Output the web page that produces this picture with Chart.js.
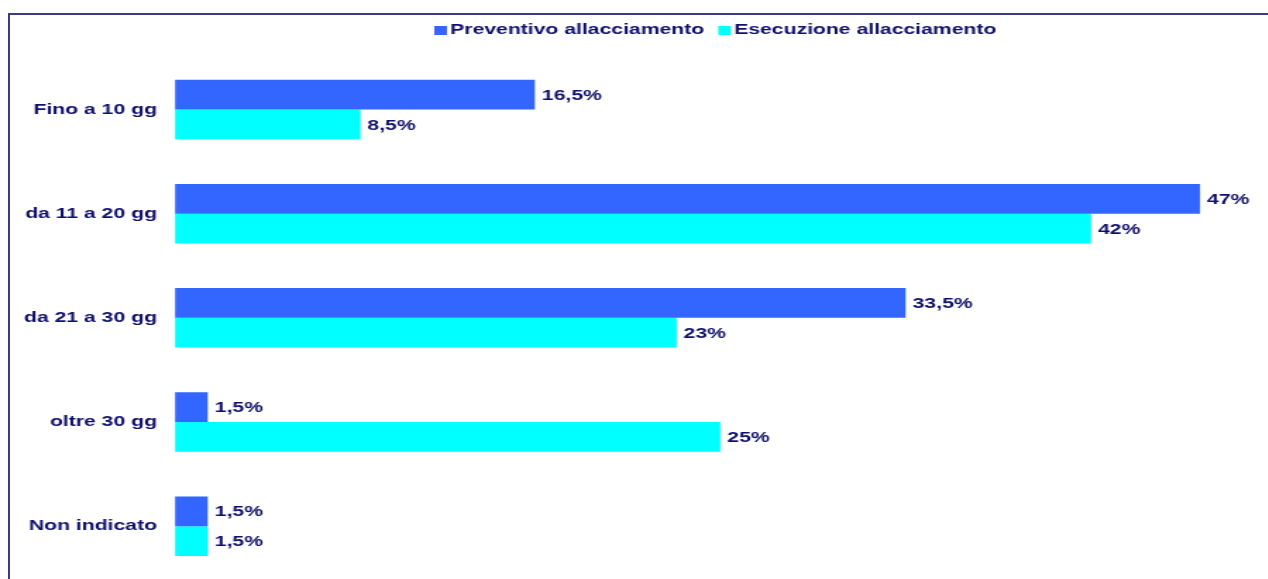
<!DOCTYPE html>
<html>
<head>
<meta charset="utf-8">
<script src="https://cdn.jsdelivr.net/npm/chart.js@4"></script>
<style>
  html, body { margin: 0; padding: 0; background: #fff; overflow: hidden; }
  #page { position: relative; width: 1268px; height: 579px; overflow: hidden; }
  /* the drawing is done narrow and widened horizontally */
  #wrap { position: absolute; left: 0; top: 0; width: 900px; height: 600px;
          transform: scaleX(1.41); transform-origin: 0 0; }
  #frame { position: absolute; left: 8px; top: 13px; right: -10px; bottom: -10px;
           border-left: 2px solid #3b3b80; border-top: 2px solid #3b3b80; }
</style>
</head>
<body>
<div id="page">
  <div id="wrap"><canvas id="chart"></canvas></div>
  <div id="frame"></div>
</div>
<script>
// ── Dati ───────────────────────────────────────────────────────────────
const CATEGORIE  = ['Fino a 10 gg', 'da 11 a 20 gg', 'da 21 a 30 gg', 'oltre 30 gg', 'Non indicato'];
const PREVENTIVO = [16.5, 47, 33.5, 1.5, 1.5];
const ESECUZIONE = [8.5, 42, 23, 25, 1.5];

const BLU    = '#3366ff';
const CIANO  = '#00ffff';
const TESTO  = '#10106b';
const FONT   = { family: "'Liberation Sans', Arial, sans-serif", size: 15, weight: 'bold' };
const FONT_CSS = `${FONT.weight} ${FONT.size}px ${FONT.family}`;

const fmtPct = v => String(v).replace('.', ',') + '%';

// etichette dei valori a destra di ogni barra
const valueLabels = {
  id: 'valueLabels',
  afterDatasetsDraw(chart) {
    const ctx = chart.ctx;
    ctx.save();
    ctx.font = FONT_CSS;
    ctx.fillStyle = TESTO;
    ctx.textAlign = 'left';
    ctx.textBaseline = 'middle';
    chart.data.datasets.forEach((ds, i) => {
      chart.getDatasetMeta(i).data.forEach((bar, j) => {
        ctx.fillText(fmtPct(ds.data[j]), bar.x + 5, bar.y + 1);
      });
    });
    ctx.restore();
  }
};

// legenda compatta in alto (quadratino attaccato al testo)
const topLegend = {
  id: 'topLegend',
  afterDraw(chart) {
    const ctx = chart.ctx;
    const box = 9, gap = 2.3, itemGap = 10;
    ctx.save();
    ctx.font = FONT_CSS;
    const items = chart.data.datasets.map(ds => ({
      text: ds.label, color: ds.backgroundColor, w: ctx.measureText(ds.label).width
    }));
    const total = items.reduce((s, it) => s + box + gap + it.w, 0) + itemGap * (items.length - 1);
    const cx = (chart.chartArea.left + chart.chartArea.right) / 2 - 3.5;
    let x = cx - total / 2;
    ctx.textAlign = 'left';
    ctx.textBaseline = 'middle';
    items.forEach(it => {
      ctx.fillStyle = it.color;
      ctx.fillRect(x, 26, box, box);
      x += box + gap;
      ctx.fillStyle = TESTO;
      ctx.fillText(it.text, x, 30);
      x += it.w + itemGap;
    });
    ctx.restore();
  }
};

new Chart(document.getElementById('chart'), {
  type: 'bar',
  data: {
    labels: CATEGORIE,
    datasets: [
      { label: 'Preventivo allacciamento', data: PREVENTIVO, backgroundColor: BLU },
      { label: 'Esecuzione allacciamento', data: ESECUZIONE, backgroundColor: CIANO },
    ]
  },
  options: {
    indexAxis: 'y',
    responsive: true,
    maintainAspectRatio: false,
    animation: false,
    barPercentage: 1,
    categoryPercentage: 60 / 105,
    layout: { padding: { left: 0, right: 2.5, top: 0, bottom: 17.5 } },
    plugins: {
      legend: { display: false },
      tooltip: { enabled: false }
    },
    scales: {
      x: {
        position: 'top',
        min: 0, max: 50,
        ticks: { display: false },
        grid:  { display: false },
        border: { display: false },
        afterFit: s => { s.height = 57.5; }
      },
      y: {
        ticks: { color: TESTO, font: FONT, padding: 12.8 },
        grid:  { display: false, drawTicks: false },
        border: { display: false },
        afterFit: s => { s.width = 124.1; }
      }
    }
  },
  plugins: [valueLabels, topLegend]
});
</script>
</body>
</html>
